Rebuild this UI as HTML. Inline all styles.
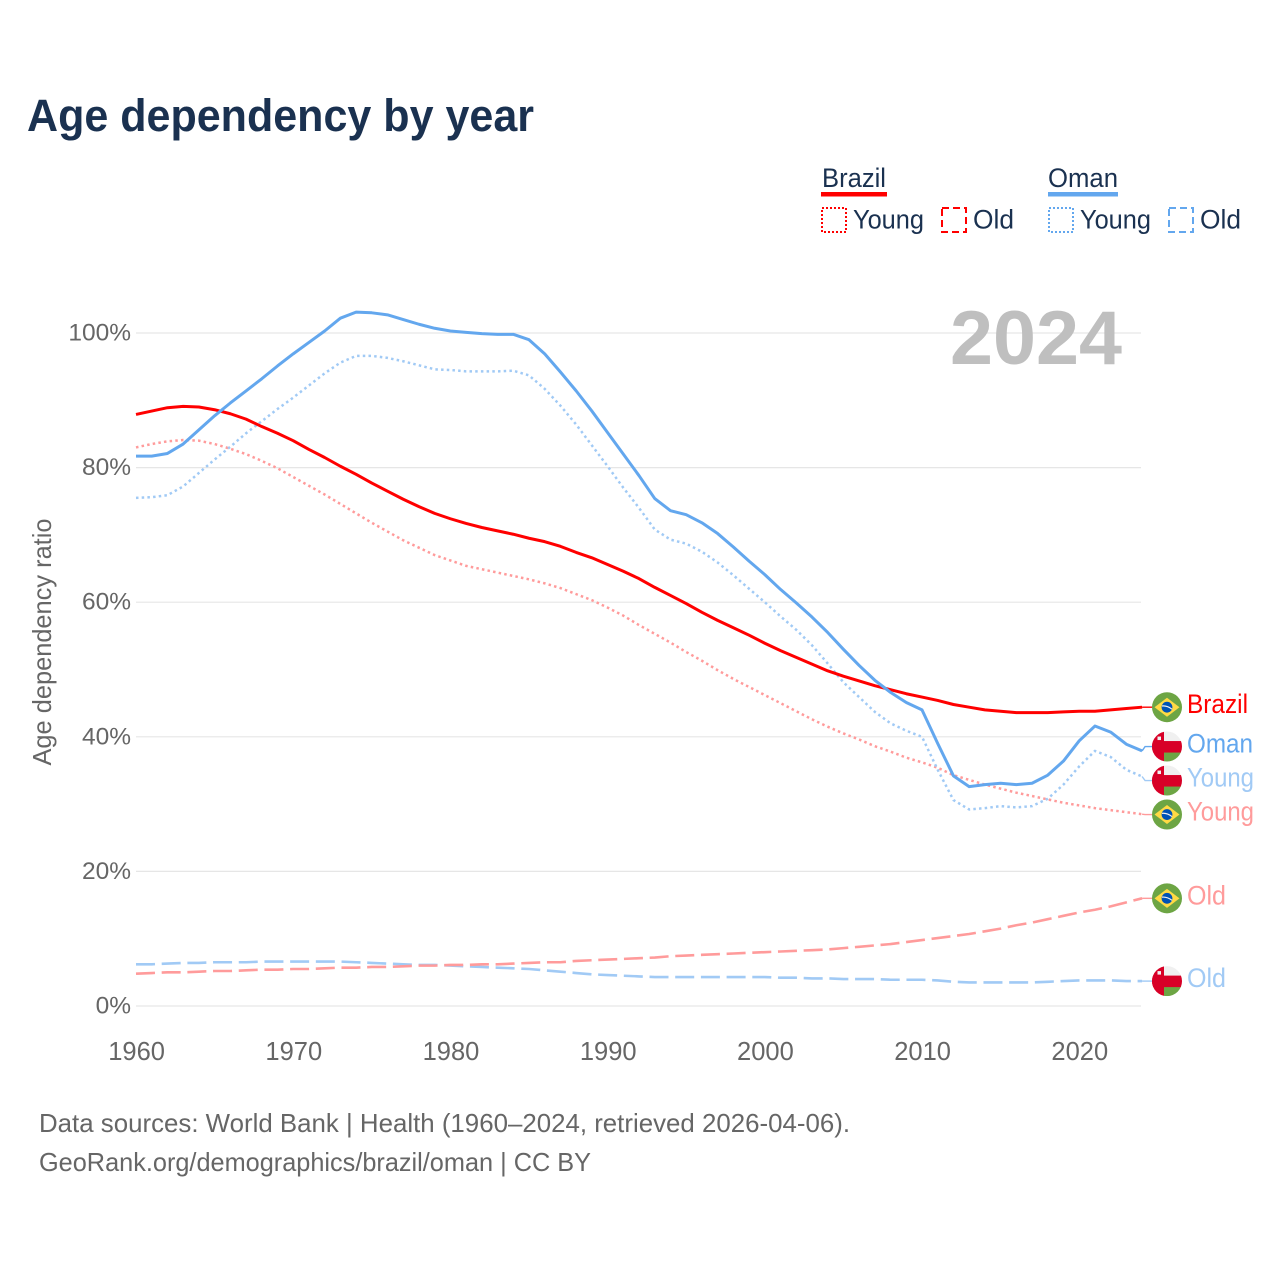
<!DOCTYPE html>
<html lang="en">
<head>
<meta charset="utf-8">
<title>Age dependency by year</title>
<style>
html,body{margin:0;padding:0;background:#fff;}
svg{display:block;font-family:"Liberation Sans",sans-serif;}
</style>
</head>
<body>
<svg id="chart" xmlns="http://www.w3.org/2000/svg" width="1280" height="1280" viewBox="0 0 1280 1280">
  <defs>
    <clipPath id="flag-clip"><circle cx="0" cy="0" r="15"/></clipPath>
    <g id="flag-br">
      <circle r="15" fill="#6da544"/>
      <polygon points="0,-9.5 12.5,0 0,9.5 -12.5,0" fill="#ffda44"/>
      <circle r="5.4" fill="#0052b4"/>
      <path d="M-5,-1.2 Q0,-1.8 5,2" stroke="#f0f0f0" stroke-width="1.2" fill="none"/>
    </g>
    <g id="flag-om">
      <g clip-path="url(#flag-clip)">
        <rect x="-15" y="-15" width="30" height="30" fill="#f0f0f0"/>
        <rect x="-3" y="5" width="18" height="10" fill="#6da544"/>
        <rect x="-15" y="-15" width="12" height="30" fill="#d80027"/>
        <rect x="-15" y="-5.5" width="30" height="11.5" fill="#d80027"/>
        <rect x="-9.5" y="-10" width="3.5" height="3.5" fill="#f0f0f0"/>
      </g>
    </g>
  </defs>
  <rect width="1280" height="1280" fill="#fff"/>
  <text x="27" y="131" font-size="45" font-weight="700" fill="#1a3150" textLength="507" lengthAdjust="spacingAndGlyphs">Age dependency by year</text>

  <g fill="#1a3150" font-size="26.5">
    <text x="822" y="187" textLength="64" lengthAdjust="spacingAndGlyphs">Brazil</text>
    <rect x="821" y="192" width="66" height="4.5" fill="#ff0000"/>
    <rect x="822" y="208" width="24" height="24" fill="none" stroke="#ff0000" stroke-width="2" stroke-dasharray="2 2"/>
    <text x="853" y="228.500" textLength="71" lengthAdjust="spacingAndGlyphs">Young</text>
    <rect x="942" y="208" width="24" height="24" fill="none" stroke="#ff0000" stroke-width="2" stroke-dasharray="7 4"/>
    <text x="973" y="228.500" textLength="41" lengthAdjust="spacingAndGlyphs">Old</text>
    <text x="1048" y="187" textLength="70" lengthAdjust="spacingAndGlyphs">Oman</text>
    <rect x="1048" y="192" width="70" height="4.5" fill="#63a7ee"/>
    <rect x="1049" y="208" width="24" height="24" fill="none" stroke="#63a7ee" stroke-width="2" stroke-dasharray="2 2"/>
    <text x="1080" y="228.500" textLength="71" lengthAdjust="spacingAndGlyphs">Young</text>
    <rect x="1169" y="208" width="24" height="24" fill="none" stroke="#63a7ee" stroke-width="2" stroke-dasharray="7 4"/>
    <text x="1200" y="228.500" textLength="41" lengthAdjust="spacingAndGlyphs">Old</text>
  </g>

  <g id="grid"></g>
  <g id="y-ticks"></g>
  <g id="x-ticks"></g>
  <text transform="translate(51,642) rotate(-90)" text-anchor="middle" font-size="26" fill="#666" textLength="247" lengthAdjust="spacingAndGlyphs">Age dependency ratio</text>
  <text x="1122" y="364" text-anchor="end" font-size="76" font-weight="700" fill="#bfbfbf" textLength="172" lengthAdjust="spacingAndGlyphs">2024</text>

  <g id="series"></g>
  <g id="labels"></g>

  <text x="39" y="1132" font-size="26" fill="#666" textLength="811" lengthAdjust="spacingAndGlyphs">Data sources: World Bank | Health (1960–2024, retrieved 2026-04-06).</text>
  <text x="39" y="1171" font-size="26" fill="#666" textLength="552" lengthAdjust="spacingAndGlyphs">GeoRank.org/demographics/brazil/oman | CC BY</text>
</svg>
<script>
const firstYear = 1960;
const xTickLabels = [1960, 1970, 1980, 1990, 2000, 2010, 2020];
const yTickLabels = [0, 20, 40, 60, 80, 100];

const brazilTotal = [
  87.9,88.4,88.9,89.1,89.0,88.6,88.0,87.2,86.1,85.1,
  84.0,82.7,81.5,80.2,79.0,77.7,76.5,75.3,74.2,73.2,
  72.4,71.7,71.1,70.6,70.1,69.5,69.0,68.3,67.4,66.6,
  65.6,64.6,63.5,62.2,61.0,59.8,58.5,57.3,56.2,55.1,
  53.9,52.8,51.8,50.8,49.8,49.0,48.3,47.6,47.0,46.4,
  45.9,45.4,44.8,44.4,44.0,43.8,43.6,43.6,43.6,43.7,
  43.8,43.8,44.0,44.2,44.4];
const brazilYoung = [
  83.0,83.5,83.9,84.1,84.0,83.5,82.8,82.0,81.0,79.9,
  78.6,77.3,76.0,74.6,73.2,71.8,70.5,69.2,68.1,67.0,
  66.2,65.4,64.9,64.4,63.9,63.4,62.8,62.1,61.2,60.3,
  59.2,58.0,56.6,55.3,54.0,52.6,51.3,49.9,48.6,47.4,
  46.2,45.0,43.8,42.6,41.5,40.5,39.6,38.6,37.8,36.9,
  36.2,35.4,34.3,33.6,32.9,32.3,31.7,31.2,30.7,30.2,
  29.8,29.4,29.1,28.8,28.5];
const brazilOld = [
  4.8,4.9,5.0,5.0,5.1,5.2,5.2,5.3,5.4,5.4,
  5.5,5.5,5.6,5.7,5.7,5.8,5.8,5.9,6.0,6.0,
  6.1,6.1,6.2,6.2,6.3,6.4,6.5,6.5,6.7,6.8,
  6.9,7.0,7.1,7.2,7.4,7.5,7.6,7.7,7.8,7.9,
  8.0,8.1,8.2,8.3,8.4,8.6,8.8,9.0,9.2,9.5,
  9.8,10.1,10.4,10.7,11.1,11.5,12.0,12.4,12.9,13.4,
  13.9,14.3,14.8,15.4,16.0];
const omanTotal = [
  81.7,81.7,82.1,83.5,85.6,87.7,89.6,91.4,93.2,95.1,
  96.9,98.6,100.3,102.2,103.1,103.0,102.7,102.0,101.3,100.7,
  100.3,100.1,99.9,99.8,99.8,99.0,96.9,94.2,91.4,88.4,
  85.2,82.0,78.8,75.4,73.6,73.0,71.8,70.2,68.2,66.1,
  64.1,61.9,59.9,57.8,55.5,53.0,50.6,48.4,46.6,45.1,
  44.0,39.0,34.2,32.6,32.9,33.1,32.9,33.1,34.3,36.4,
  39.4,41.6,40.7,38.9,37.9];
const omanYoung = [
  75.5,75.6,75.9,77.2,79.2,81.2,83.1,85.1,86.9,88.7,
  90.4,92.2,94.0,95.6,96.6,96.6,96.3,95.8,95.2,94.6,
  94.5,94.3,94.3,94.3,94.4,93.7,91.7,89.2,86.4,83.3,
  80.2,77.0,74.0,70.8,69.3,68.7,67.5,65.9,64.0,62.0,
  60.0,57.9,55.9,53.6,50.9,48.1,45.9,43.7,42.0,40.9,
  40.0,35.1,30.6,29.2,29.4,29.7,29.5,29.7,30.8,32.9,
  35.6,37.9,37.0,35.1,34.1];
const omanOld = [
  6.2,6.2,6.3,6.4,6.4,6.5,6.5,6.5,6.6,6.6,
  6.6,6.6,6.6,6.6,6.5,6.4,6.3,6.2,6.1,6.1,
  6.0,5.9,5.8,5.7,5.6,5.5,5.3,5.1,4.9,4.7,
  4.6,4.5,4.4,4.3,4.3,4.3,4.3,4.3,4.3,4.3,
  4.3,4.2,4.2,4.1,4.1,4.0,4.0,4.0,3.9,3.9,
  3.9,3.8,3.6,3.5,3.5,3.5,3.5,3.5,3.6,3.7,
  3.8,3.8,3.8,3.7,3.7];

const SVG_NS = 'http://www.w3.org/2000/svg';
const xAxis = year => 136 + (year - firstYear) * 15.72;
const yAxis = pct => 1006 - pct * 6.73;
const gridEnd = 1141;
const RED = '#ff0000', RED_LIGHT = '#ff9b9b', BLUE = '#63a7ee', BLUE_LIGHT = '#a1caf5';
const DOTTED = '2.5 3.2', DASHED = '19 6.7';

function make(tag, attrs, parent, text) {
  const node = document.createElementNS(SVG_NS, tag);
  for (const key in attrs) node.setAttribute(key, attrs[key]);
  if (text !== undefined) node.textContent = text;
  parent.appendChild(node);
  return node;
}

const gridGroup = document.getElementById('grid');
const yGroup = document.getElementById('y-ticks');
const xGroup = document.getElementById('x-ticks');
const seriesGroup = document.getElementById('series');
const labelsGroup = document.getElementById('labels');

yTickLabels.forEach(value => {
  const line = make('line', {x1: xAxis(firstYear), x2: gridEnd, y1: yAxis(value), y2: yAxis(value), stroke: '#e6e6e6', 'stroke-width': 1.2}, gridGroup);
  
  
  const label = make('text', {x: 131, y: yAxis(value) + 7.5, 'text-anchor': 'end', 'font-size': 24.5, fill: '#666'}, yGroup, value + '%');
  
  
});

xTickLabels.forEach(value => {
  const label = make('text', {x: xAxis(value) + 0.6, y: 1060, 'text-anchor': 'middle', 'font-size': 25.5, fill: '#666'}, xGroup, String(value));
  
  
});

const seriesList = [
  {id: 'oman-old', values: omanOld, color: BLUE_LIGHT, dash: DASHED, width: 2.6, label: 'Old', flag: 'om'},
  {id: 'brazil-old', values: brazilOld, color: RED_LIGHT, dash: DASHED, width: 2.6, label: 'Old', flag: 'br'},
  {id: 'brazil-young', values: brazilYoung, color: RED_LIGHT, dash: DOTTED, width: 2.5, label: 'Young', flag: 'br'},
  {id: 'oman-young', values: omanYoung, color: BLUE_LIGHT, dash: DOTTED, width: 2.5, label: 'Young', flag: 'om'},
  {id: 'brazil-total', values: brazilTotal, color: RED, dash: null, width: 3, label: 'Brazil', flag: 'br'},
  {id: 'oman-total', values: omanTotal, color: BLUE, dash: null, width: 3, label: 'Oman', flag: 'om'}
];

seriesList.forEach(s => {
  const points = s.values.map((v, i) => xAxis(firstYear + i).toFixed(2) + ',' + yAxis(v).toFixed(2)).join(' ');
  const attrs = {points: points, fill: 'none', stroke: s.color, 'stroke-width': s.width, 'stroke-linejoin': 'round'};
  if (s.dash) attrs['stroke-dasharray'] = s.dash;
  const line = make('polyline', attrs, seriesGroup);
  
  
});

/* End labels: start at each series' last value, then push overlapping neighbours apart. */
const minGap = 34;
const placed = seriesList.map(s => {
  const last = s.values[s.values.length - 1];
  return {s: s, endX: xAxis(firstYear + s.values.length - 1), endY: yAxis(last), y: yAxis(last)};
}).sort((a, b) => a.y - b.y);
for (let pass = 0; pass < 30; pass++) {
  for (let i = 0; i < placed.length - 1; i++) {
    const gap = placed[i + 1].y - placed[i].y;
    if (gap < minGap) {
      const shift = (minGap - gap) / 2;
      placed[i].y -= shift;
      placed[i + 1].y += shift;
    }
  }
}

const labelWidths = {Brazil: 61, Oman: 66, Young: 67, Old: 39};
placed.forEach(p => {
  const leader = make('polyline', {points: p.endX + ',' + p.endY + ' ' + (p.endX + 3) + ',' + p.y + ' 1153,' + p.y, fill: 'none', stroke: p.s.color, 'stroke-width': 1.4}, labelsGroup);
  
  
  const flag = make('use', {href: '#flag-' + p.s.flag, x: 1167, y: p.y}, labelsGroup);
  
  
  const label = make('text', {x: 1187, y: p.y + 6, 'font-size': 26.5, fill: p.s.color, textLength: labelWidths[p.s.label], lengthAdjust: 'spacingAndGlyphs'}, labelsGroup, p.s.label);
  
  
});
</script>
</body>
</html>
